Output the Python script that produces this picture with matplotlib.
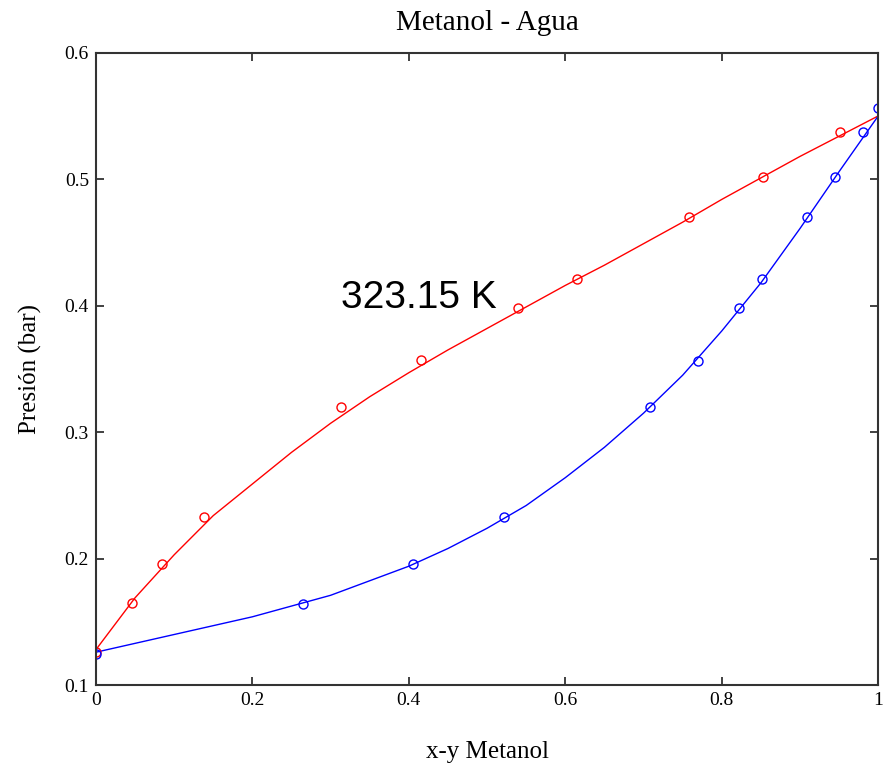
import matplotlib
matplotlib.use("Agg")
import matplotlib.pyplot as plt

# VLE Metanol - Agua at 323.15 K
# model curves
bubble_x = [0, 0.05, 0.1, 0.15, 0.2, 0.25, 0.3, 0.35, 0.4, 0.45, 0.5, 0.55, 0.6,
            0.65, 0.7, 0.75, 0.8, 0.85, 0.9, 0.95, 1.0]
bubble_p = [0.128, 0.169, 0.203, 0.234, 0.259, 0.284, 0.307, 0.328, 0.347, 0.365, 0.382,
            0.399, 0.416, 0.432, 0.449, 0.466, 0.484, 0.501, 0.518, 0.534, 0.550]

dew_y = [0, 0.1, 0.2, 0.3, 0.4, 0.45, 0.5, 0.55, 0.6, 0.65, 0.7, 0.75, 0.8, 0.85,
         0.9, 0.95, 1.0]
dew_p = [0.126, 0.140, 0.154, 0.171, 0.194, 0.208, 0.224, 0.242, 0.264, 0.288, 0.315,
         0.345, 0.380, 0.418, 0.461, 0.506, 0.550]

# experimental points
exp_x = [0, 0.046, 0.085, 0.138, 0.313, 0.416, 0.540, 0.615, 0.758, 0.853, 0.951]
exp_px = [0.126, 0.165, 0.196, 0.233, 0.320, 0.357, 0.398, 0.421, 0.470, 0.502, 0.537]

exp_y = [0, 0.265, 0.405, 0.522, 0.708, 0.769, 0.822, 0.852, 0.909, 0.945, 0.981, 1.0]
exp_py = [0.1245, 0.164, 0.196, 0.233, 0.320, 0.356, 0.398, 0.421, 0.470, 0.502, 0.537, 0.556]

xticks = [0, 0.2, 0.4, 0.6, 0.8, 1]
xtick_labels = ["0", "0.2", "0.4", "0.6", "0.8", "1"]
yticks = [0.1, 0.2, 0.3, 0.4, 0.5, 0.6]

serif = "Liberation Serif"

fig = plt.figure(figsize=(8.88, 7.75), dpi=100)
ax = fig.add_axes([0.108, 0.116, 0.881, 0.816])

ax.plot(bubble_x, bubble_p, color="red", lw=1.0)
ax.plot(dew_y, dew_p, color="blue", lw=1.0)
ax.plot(exp_x, exp_px, "o", mfc="none", mec="red", ms=6.5, mew=1.0)
ax.plot(exp_y, exp_py, "o", mfc="none", mec="blue", ms=6.5, mew=1.0)

ax.set_xlim(0, 1)
ax.set_ylim(0.1, 0.6)
ax.set_xticks(xticks)
ax.set_xticklabels(xtick_labels)
ax.set_yticks(yticks)
ax.set_yticklabels(["%.1f" % v for v in yticks])
ax.tick_params(direction="in", top=True, right=True, length=6, width=1.3,
               labelsize=14, color="#333333", pad=5)
for lab in ax.get_xticklabels() + ax.get_yticklabels():
    lab.set_fontfamily(serif)
for s in ax.spines.values():
    s.set_linewidth(1.5)
    s.set_color("#333333")

ax.set_title("Metanol - Agua", fontfamily=serif, fontsize=21, pad=16)
ax.set_xlabel("x-y Metanol", fontfamily=serif, fontsize=18, labelpad=23)
ax.set_ylabel("Presión (bar)", fontfamily=serif, fontsize=18, labelpad=16)

ax.text(0.313, 0.398, "323.15 K", fontfamily="Liberation Sans", fontsize=28,
        ha="left", va="baseline")

fig.savefig("out.png", dpi=100)
